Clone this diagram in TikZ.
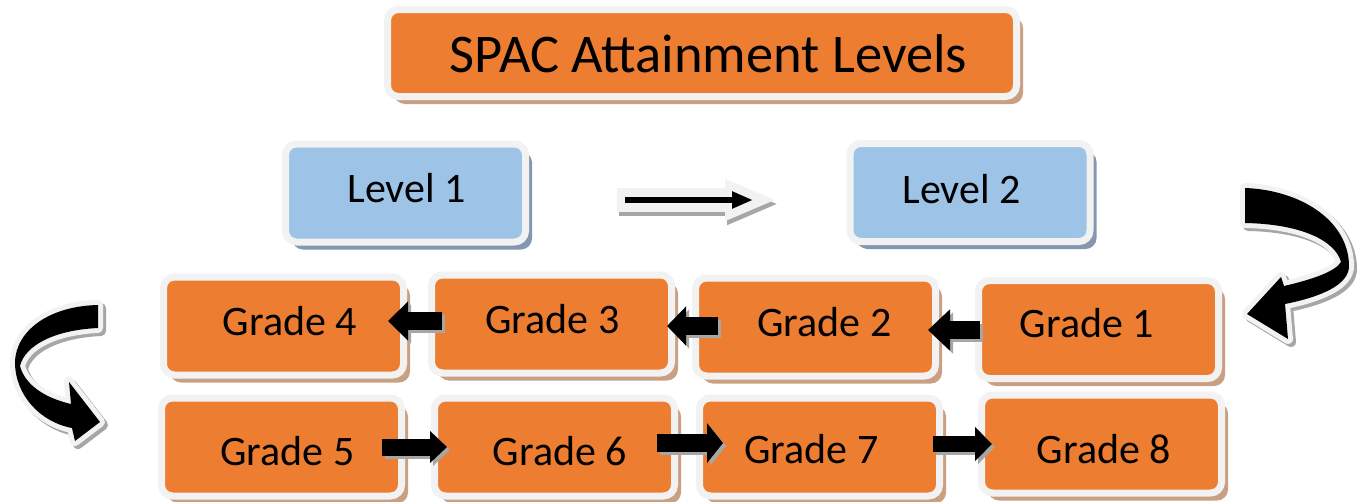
\documentclass[tikz,border=0pt]{standalone}
\usepackage{fontspec}
\setmainfont{Carlito}
\usetikzlibrary{arrows.meta,shadows}
\definecolor{orangeF}{HTML}{ED7D31}
\definecolor{blueF}{HTML}{9DC3E6}
\definecolor{rimC}{HTML}{F2F2F2}
\definecolor{tanS}{HTML}{C9A084}
\definecolor{blueS}{HTML}{8497B0}
\definecolor{greyS}{HTML}{A6A6A6}
\begin{document}
\begin{tikzpicture}[x=1pt,y=-1pt,
  box/.style={draw=rimC, line width=7pt, rounded corners=11pt, inner sep=0pt, outer sep=0pt},
  obox/.style={box, fill=orangeF, minimum width=240pt, minimum height=98pt,
    drop shadow={shadow xshift=6.5pt, shadow yshift=-7.5pt, fill=tanS, opacity=1}},
  bbox/.style={box, fill=blueF, minimum width=240pt, minimum height=98pt,
    drop shadow={shadow xshift=6.5pt, shadow yshift=-7.5pt, fill=blueS, opacity=1}},
  gtext/.style={font=\fontsize{42}{50}\selectfont, inner sep=0pt, anchor=base},
  barrow/.style n args={3}{line width=#1, -{Triangle[length=#2,width=#3]}},
  bshadow/.style={draw=greyS, transform canvas={shift={(3pt,-3pt)}}},
  curv/.style={fill=black,
    preaction={draw=greyS, line width=10pt, line join=round, transform canvas={shift={(3pt,-3pt)}}},
    preaction={draw=rimC, line width=10pt, line join=round}}
]
\useasboundingbox[fill=white] (0,0) rectangle (1362,501);

% title
\node[box, fill=orangeF, minimum width=629pt, minimum height=87pt,
  drop shadow={shadow xshift=6.5pt, shadow yshift=-7.5pt, fill=tanS, opacity=1}] (title) at (702,53) {};
\node[gtext, font=\fontsize{54.5}{60}\selectfont] (titlet) at (708.5,72) {SPAC Attainment Levels};

% levels
\node[bbox] (l1) at (405.5,193) {};
\node[bbox] (l2) at (970,192.5) {};
\node[gtext] (l1t) at (406.5,202) {Level 1};
\node[gtext] (l2t) at (961.5,203) {Level 2};

% grades
\node[obox] (g4) at (283.5,326) {};
\node[obox] (g3) at (551.5,324) {};
\node[obox] (g2) at (815.5,327) {};
\node[obox] (g1) at (1098.5,329.5) {};
\node[obox] (g5) at (281.5,447) {};
\node[obox] (g6) at (554.5,447) {};
\node[obox] (g7) at (819.5,447) {};
\node[obox] (g8) at (1101.5,444) {};
\node[gtext] (g4t) at (290,335) {Grade 4};
\node[gtext] (g3t) at (552.5,333) {Grade 3};
\node[gtext] (g2t) at (824.5,336) {Grade 2};
\node[gtext] (g1t) at (1087,337) {Grade 1};
\node[gtext] (g5t) at (287.5,465) {Grade 5};
\node[gtext] (g6t) at (560,465) {Grade 6};
\node[gtext] (g7t) at (811.5,463) {Grade 7};
\node[gtext] (g8t) at (1104,463) {Grade 8};

% level arrow
\coordinate (la1) at (617,200);
\coordinate (la2) at (777,200);
\coordinate (lb1) at (625,200);
\coordinate (lb2) at (753,200);
\draw[barrow={24pt}{52pt}{38pt}, draw=greyS, transform canvas={shift={(2pt,-4pt)}}] (la1) -- (la2);
\draw[barrow={24pt}{52pt}{38pt}, draw=rimC] (la1) -- (la2);
\draw[barrow={6pt}{21pt}{16pt}, draw=black] (lb1) -- (lb2);

% small block arrows
\coordinate (a34s) at (442,321);   \coordinate (a34e) at (388,321);
\coordinate (a23s) at (718,326);   \coordinate (a23e) at (667,326);
\coordinate (a12s) at (980,330);   \coordinate (a12e) at (928,330);
\coordinate (a56s) at (382,447);   \coordinate (a56e) at (447,447);
\coordinate (a67s) at (657,443);   \coordinate (a67e) at (723,443);
\coordinate (a78s) at (933,444);   \coordinate (a78e) at (992,444);
\foreach \s/\e/\w/\l/\h in {a34s/a34e/18pt/20pt/38pt, a23s/a23e/18pt/19pt/38pt, a12s/a12e/18pt/22pt/40pt,
  a56s/a56e/17pt/17pt/31pt, a67s/a67e/18pt/16pt/39pt, a78s/a78e/16pt/17pt/33pt}{
  \draw[barrow={\w}{\l}{\h}, bshadow] (\s) -- (\e);
  \draw[barrow={\w}{\l}{\h}, draw=black] (\s) -- (\e);
}

% right curved arrow
\path[curv] (1245,188) .. controls (1300,190) and (1348,220) .. (1349,265)
  .. controls (1350,285) and (1320,297) .. (1285,304)
  -- (1288,339) -- (1247,314) -- (1281,277) -- (1284,286)
  .. controls (1310,280) and (1335,272) .. (1341,262)
  .. controls (1335,240) and (1300,224) .. (1245,223) -- cycle;

% left curved arrow
\path[curv] (98,305) .. controls (50,306) and (16,330) .. (15,362)
  .. controls (15,395) and (40,422) .. (72,428)
  -- (75,441) -- (100,422) -- (69,382) -- (71,404)
  .. controls (45,398) and (25,385) .. (20,366)
  .. controls (25,345) and (55,330) .. (98,328) -- cycle;
\end{tikzpicture}
\end{document}
